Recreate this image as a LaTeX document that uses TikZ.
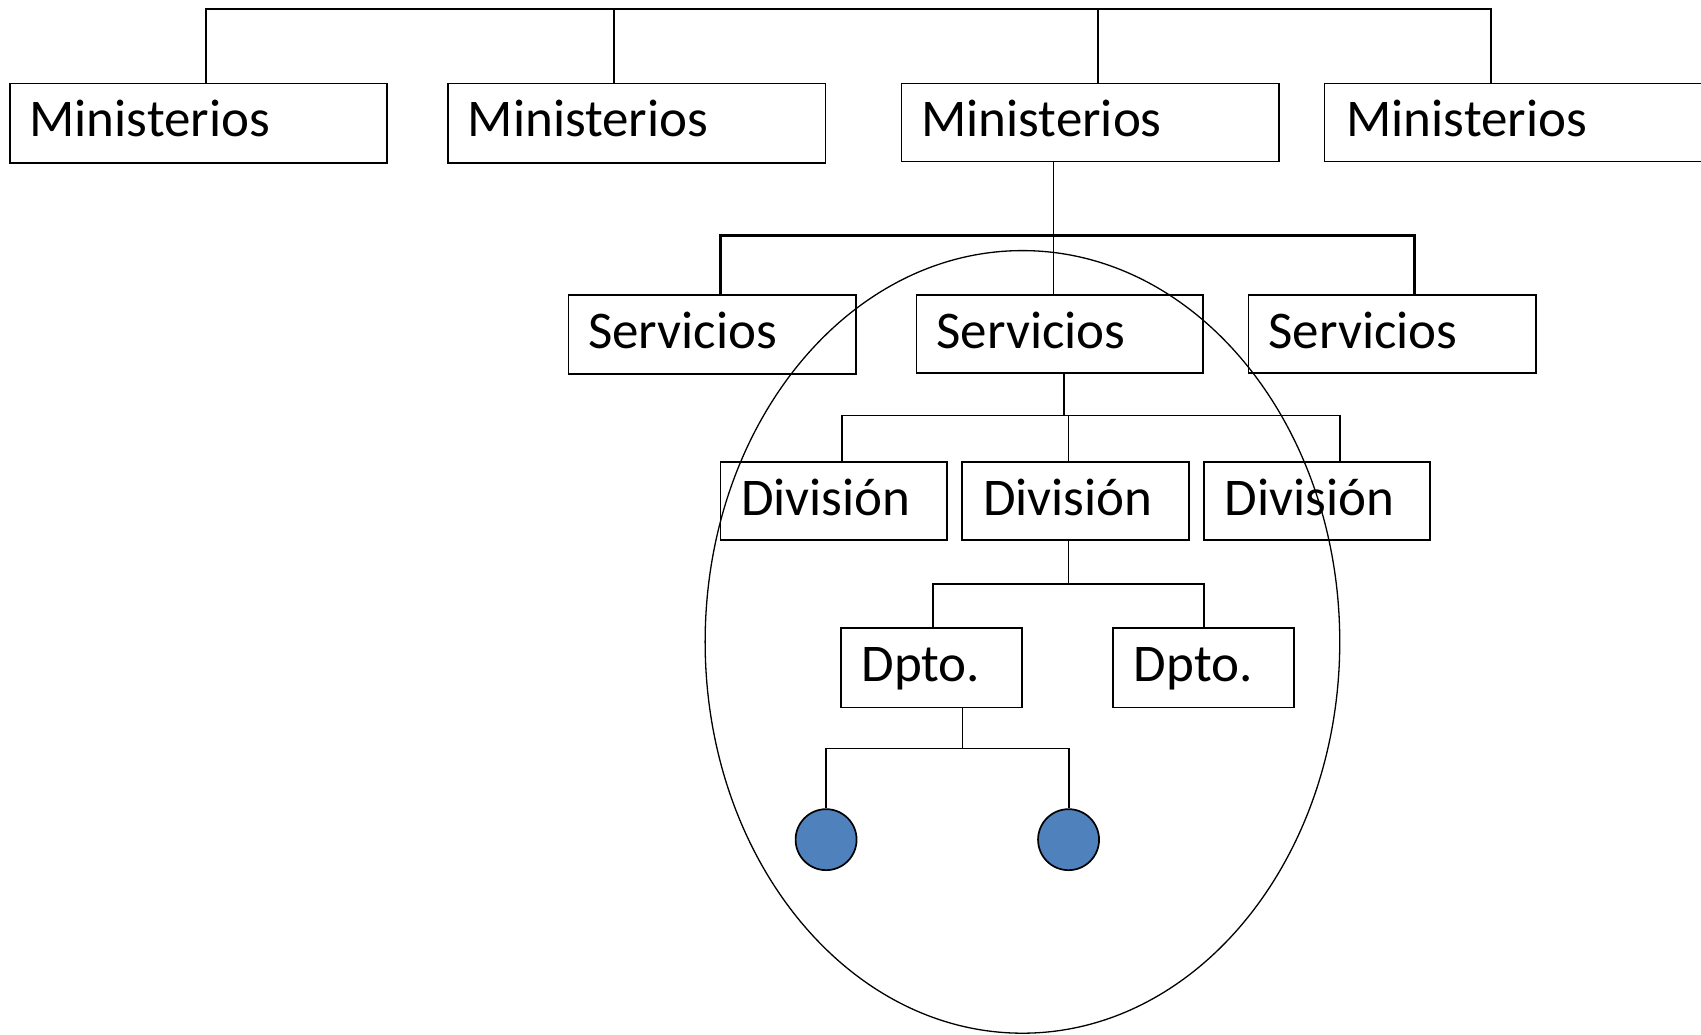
\documentclass[tikz,border=0pt]{standalone}
\usepackage{fontspec}
\setmainfont{Carlito}
\usetikzlibrary{fit}
\definecolor{obl}{HTML}{4F81BD}
\begin{document}
\begin{tikzpicture}[x=1.0848pt,y=-1.0848pt,
  box/.style={draw, rectangle, line width=1.6pt, inner sep=0pt},
  lbl/.style={anchor=base west, inner sep=0pt, font=\fontsize{53}{63}\selectfont},
  conn/.style={line width=1.9pt},
  thinconn/.style={line width=1.3pt},
  thickconn/.style={line width=3pt},
  dot/.style={circle, draw, fill=obl, line width=1.7pt, minimum size=61pt, inner sep=0pt}]
\useasboundingbox (0,0) rectangle (1568,954);
% Ministerios
\node[box, fit={(9,77) (357,150)}] (m1) {};
\node[box, fit={(413,77) (761,150)}] (m2) {};
\node[box, fit={(831,77) (1179,149)}] (m3) {};
\node[box, fit={(1221,77) (1590,149)}] (m4) {};
\node[lbl] (m1t) at (27,126) {Ministerios};
\node[lbl] (m2t) at (431,126) {Ministerios};
\node[lbl] (m3t) at (849,126) {Ministerios};
\node[lbl] (m4t) at (1241,126) {Ministerios};
% Servicios
\node[box, fit={(524,272) (789,345)}] (s1) {};
\node[box, fit={(845,272) (1109,344)}] (s2) {};
\node[box, fit={(1151,272) (1416,344)}] (s3) {};
\node[lbl] (s1t) at (542,321) {Servicios};
\node[lbl] (s2t) at (863,321) {Servicios};
\node[lbl] (s3t) at (1169,321) {Servicios};
% Divisiones
\node[box, fit={(664,426) (873,498)}] (dv1) {};
\node[box, fit={(887,426) (1096,498)}] (dv2) {};
\node[box, fit={(1110,426) (1318,498)}] (dv3) {};
\node[lbl] (dv1t) at (683,475) {División};
\node[lbl] (dv2t) at (906,475) {División};
\node[lbl] (dv3t) at (1129,475) {División};
% Dptos
\node[box, fit={(775,579) (942,652)}] (pp1) {};
\node[box, fit={(1026,579) (1193,652)}] (pp2) {};
\node[lbl] (pp1t) at (794,628) {Dpto.};
\node[lbl] (pp2t) at (1045,628) {Dpto.};
% circles
\node[dot] (o1) at (761.5,774) {};
\node[dot] (o2) at (985,774) {};
% connectors top
\coordinate (t1) at (190,8);
\coordinate (t2) at (566,8);
\coordinate (t3) at (1012,8);
\coordinate (t4) at (1374.5,8);
\draw[conn] (t1 |- m1.north) -- (t1) -- (t4) -- (t4 |- m4.north);
\draw[conn] (t2) -- (t2 |- m2.north);
\draw[conn] (t3) -- (t3 |- m3.north);
% Ministerios -> Servicios
\coordinate (c3) at (971,0);
\draw[thinconn] (c3 |- m3.south) -- (c3 |- s2.north);
\coordinate (b1) at (664,217);
\coordinate (b2) at (1304,217);
\draw[thickconn] (b1 |- s1.north) -- (b1) -- (b2) -- (b2 |- s3.north);
% Servicios -> Division
\coordinate (c4) at (981,383);
\draw[conn] (c4 |- s2.south) -- (c4);
\coordinate (d1) at (776,383);
\coordinate (d2) at (985,383);
\coordinate (d3) at (1235,383);
\draw[conn] (d1 |- dv1.north) -- (d1) -- (d3) -- (d3 |- dv3.north);
\draw[thinconn] (d2) -- (d2 |- dv2.north);
% Division -> Dpto
\coordinate (c5) at (985,538);
\draw[thinconn] (c5 |- dv2.south) -- (c5);
\coordinate (p1) at (860,538);
\coordinate (p2) at (1110,538);
\draw[conn] (p1 |- pp1.north) -- (p1) -- (p2) -- (p2 |- pp2.north);
% Dpto -> circles
\coordinate (c6) at (887,690);
\draw[thinconn] (c6 |- pp1.south) -- (c6);
\coordinate (q1) at (761.5,690);
\coordinate (q2) at (985,690);
\draw[conn] (o1.north) -- (q1) -- (q2) -- (o2.north);
% big ellipse
\draw[line width=1.3pt] (942.5,591.7) ellipse [x radius=292.5, y radius=360.7];
\end{tikzpicture}
\end{document}
